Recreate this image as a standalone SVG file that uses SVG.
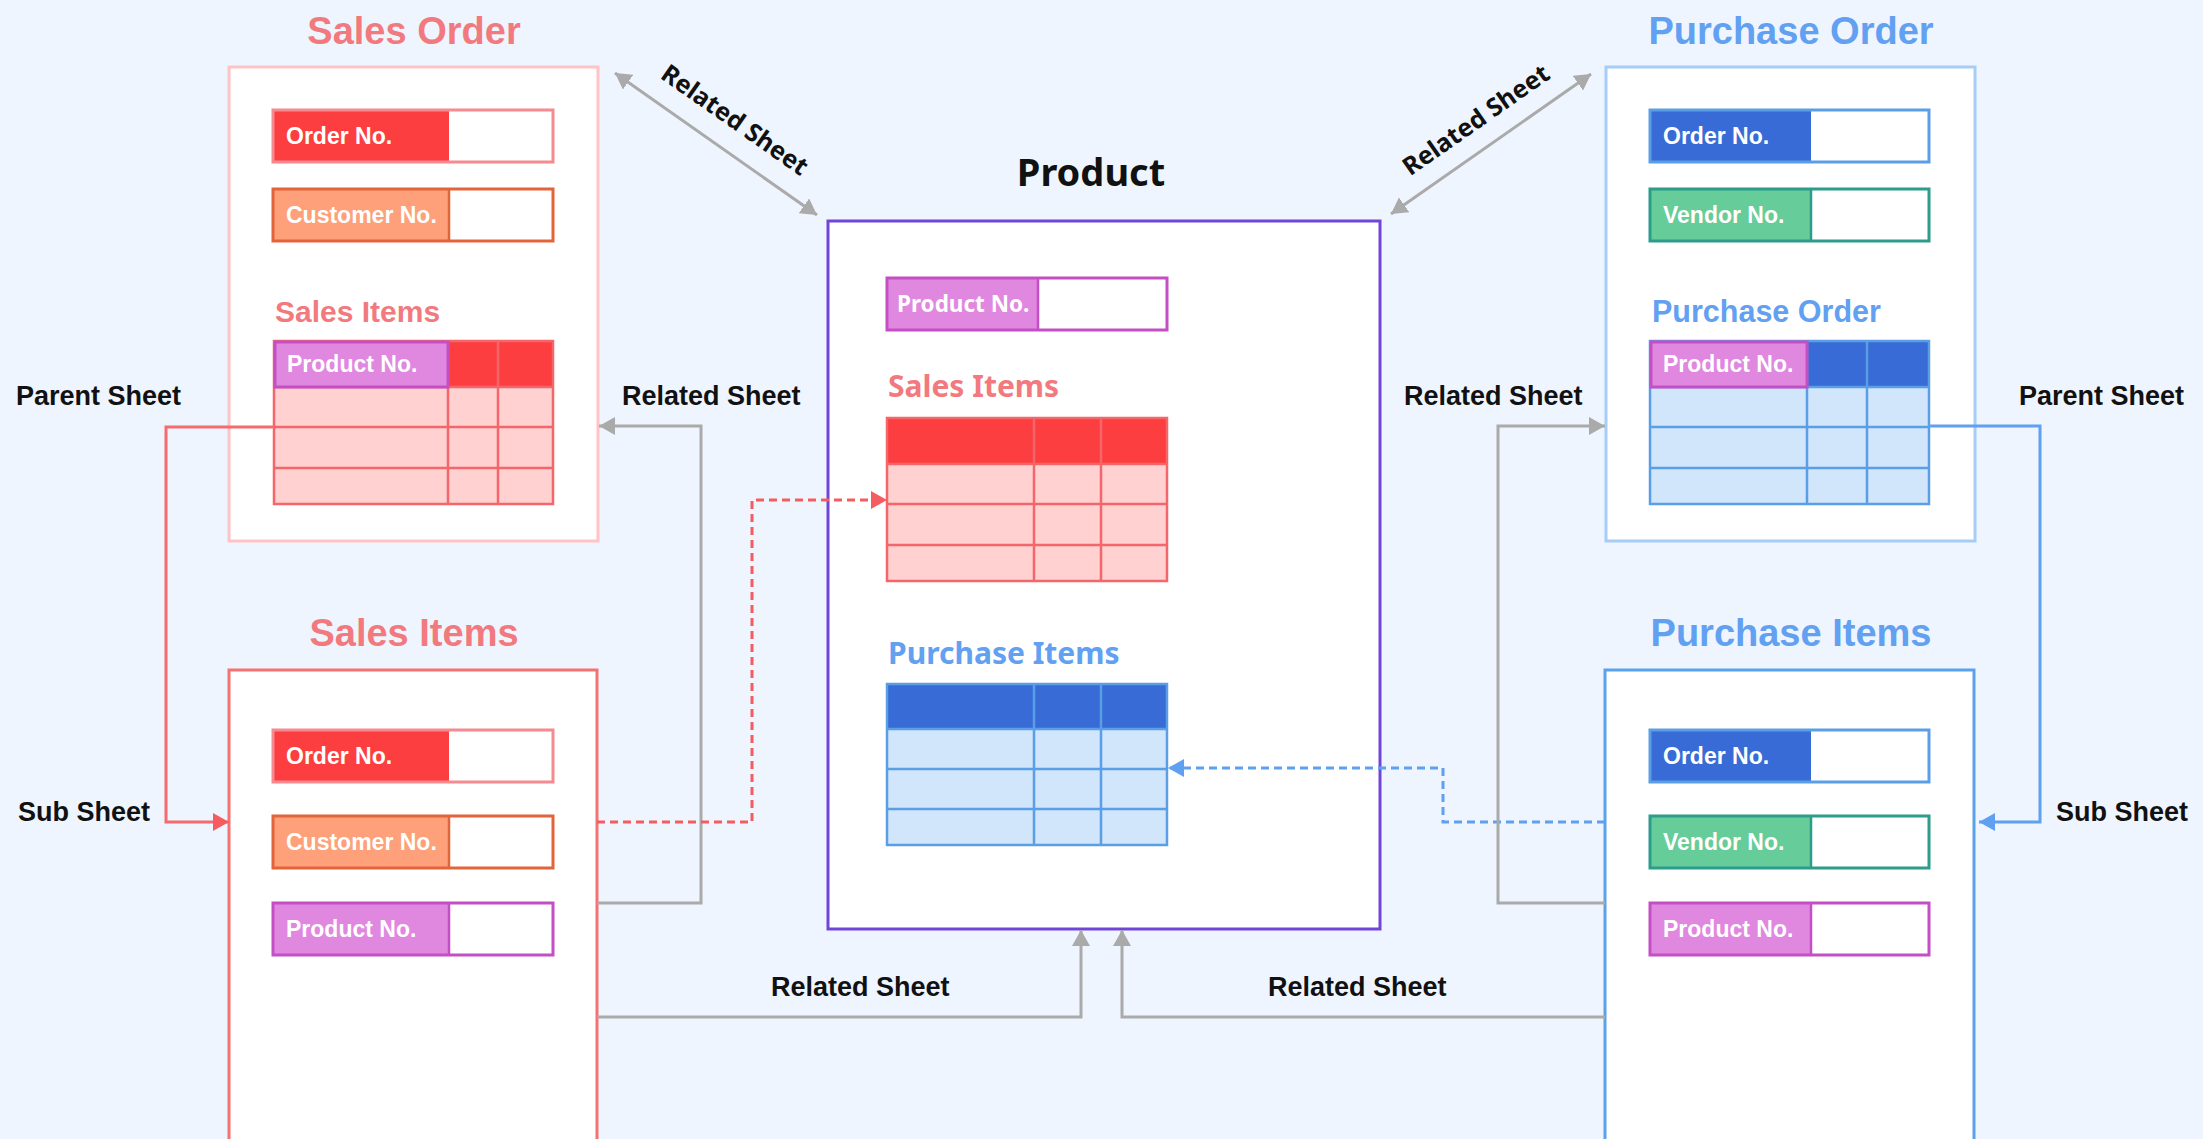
<svg xmlns="http://www.w3.org/2000/svg" width="2203" height="1139" viewBox="0 0 2203 1139">
<style>
.t{font-family:"Liberation Sans",Arial,sans-serif;font-weight:bold}
.n{font-family:"Noto Sans","Liberation Sans",sans-serif;font-weight:bold}
.title{font-size:38px;text-anchor:middle}
.red{fill:#f27a7f}
.blue{fill:#62a0f2}
.lbl{font-size:27px;fill:#111}
.fl{font-size:23px;fill:#fff}
.box{fill:#fff;stroke-width:3}
.val{fill:#fff}
.conn{fill:none;stroke-width:3}
.gray{stroke:#aaaaaa}
</style>
<defs>
<marker id="ag" viewBox="0 0 16 18" refX="16" refY="9" markerWidth="16" markerHeight="18" markerUnits="userSpaceOnUse" orient="auto-start-reverse"><path d="M0,0 L16,9 L0,18 Z" fill="#aaaaaa"/></marker>
<marker id="ar" viewBox="0 0 16 18" refX="16" refY="9" markerWidth="16" markerHeight="18" markerUnits="userSpaceOnUse" orient="auto"><path d="M0,0 L16,9 L0,18 Z" fill="#f45c60"/></marker>
<marker id="ab" viewBox="0 0 16 18" refX="16" refY="9" markerWidth="16" markerHeight="18" markerUnits="userSpaceOnUse" orient="auto"><path d="M0,0 L16,9 L0,18 Z" fill="#5fa0f0"/></marker>
</defs>
<rect x="0" y="0" width="2203" height="1139" fill="#eef5fe"/>

<g id="sales-order">
<text class="t title red" x="414" y="44">Sales Order</text>
<rect class="box" x="229" y="67" width="369" height="474" stroke="#ffc3c6"/>
<rect x="273" y="110" width="176" height="52" fill="#fd3e40"/>
<rect x="449" y="110" width="104" height="52" class="val"/>
<rect x="273" y="110" width="280" height="52" fill="none" stroke="#f58a90" stroke-width="3"/>
<text class="t fl" x="286" y="144">Order No.</text>
<rect x="273" y="189" width="176" height="52" fill="#fea079"/>
<rect x="449" y="189" width="104" height="52" class="val"/>
<rect x="273" y="189" width="280" height="52" fill="none" stroke="#e2643a" stroke-width="3"/>
<line x1="449" y1="189" x2="449" y2="241" stroke="#e2643a" stroke-width="2.5"/>
<text class="t fl" x="286" y="223">Customer No.</text>
<text class="t red" font-size="30" x="275" y="322">Sales Items</text>
<rect x="274" y="341" width="279" height="163" fill="#ffd1d1"/>
<rect x="448" y="341" width="105" height="46" fill="#fd3e40"/>
<g stroke="#f4666a" stroke-width="2.5" fill="none">
<rect x="274" y="341" width="279" height="163"/>
<line x1="274" y1="387" x2="553" y2="387"/>
<line x1="274" y1="427" x2="553" y2="427"/>
<line x1="274" y1="468" x2="553" y2="468"/>
<line x1="448" y1="341" x2="448" y2="504"/>
<line x1="498" y1="341" x2="498" y2="504"/>
</g>
<rect x="275" y="342" width="173" height="45" fill="#e088e0" stroke="#c44fc4" stroke-width="3"/>
<text class="t fl" x="287" y="372">Product No.</text>
</g>

<g id="sales-items">
<text class="t title red" x="414" y="646">Sales Items</text>
<rect class="box" x="229" y="670" width="368" height="500" stroke="#f57272"/>
<rect x="273" y="730" width="176" height="52" fill="#fd3e40"/>
<rect x="449" y="730" width="104" height="52" class="val"/>
<rect x="273" y="730" width="280" height="52" fill="none" stroke="#f58a90" stroke-width="3"/>
<text class="t fl" x="286" y="764">Order No.</text>
<rect x="273" y="816" width="176" height="52" fill="#fea079"/>
<rect x="449" y="816" width="104" height="52" class="val"/>
<rect x="273" y="816" width="280" height="52" fill="none" stroke="#e2643a" stroke-width="3"/>
<line x1="449" y1="816" x2="449" y2="868" stroke="#e2643a" stroke-width="2.5"/>
<text class="t fl" x="286" y="850">Customer No.</text>
<rect x="273" y="903" width="176" height="52" fill="#e088e0"/>
<rect x="449" y="903" width="104" height="52" class="val"/>
<rect x="273" y="903" width="280" height="52" fill="none" stroke="#c44fc4" stroke-width="3"/>
<line x1="449" y1="903" x2="449" y2="955" stroke="#c44fc4" stroke-width="2.5"/>
<text class="t fl" x="286" y="937">Product No.</text>
</g>

<g id="product">
<text class="n" font-size="38" fill="#111" text-anchor="middle" x="1091" y="186">Product</text>
<rect class="box" x="828" y="221" width="552" height="708" stroke="#7145d6" stroke-width="3.5"/>
<rect x="887" y="278" width="151" height="52" fill="#e088e0"/>
<rect x="1038" y="278" width="129" height="52" class="val"/>
<rect x="887" y="278" width="280" height="52" fill="none" stroke="#c44fc4" stroke-width="3"/>
<line x1="1038" y1="278" x2="1038" y2="330" stroke="#c44fc4" stroke-width="2.5"/>
<text class="n" font-size="22.5" fill="#fff" x="897" y="312">Product No.</text>
<text class="n red" font-size="30" x="888" y="397">Sales Items</text>
<rect x="887" y="418" width="280" height="163" fill="#ffd1d1"/>
<rect x="887" y="418" width="280" height="46" fill="#fd3e40"/>
<g stroke="#f4666a" stroke-width="2.5" fill="none">
<rect x="887" y="418" width="280" height="163"/>
<line x1="887" y1="464" x2="1167" y2="464"/>
<line x1="887" y1="504" x2="1167" y2="504"/>
<line x1="887" y1="545" x2="1167" y2="545"/>
<line x1="1034" y1="418" x2="1034" y2="581"/>
<line x1="1101" y1="418" x2="1101" y2="581"/>
</g>
<text class="n blue" font-size="30" x="888" y="664">Purchase Items</text>
<rect x="887" y="684" width="280" height="161" fill="#d1e5fb"/>
<rect x="887" y="684" width="280" height="45" fill="#386bd6"/>
<g stroke="#5a9fe6" stroke-width="2.5" fill="none">
<rect x="887" y="684" width="280" height="161"/>
<line x1="887" y1="729" x2="1167" y2="729"/>
<line x1="887" y1="769" x2="1167" y2="769"/>
<line x1="887" y1="809" x2="1167" y2="809"/>
<line x1="1034" y1="684" x2="1034" y2="845"/>
<line x1="1101" y1="684" x2="1101" y2="845"/>
</g>
</g>

<g id="purchase-order">
<text class="t title blue" x="1791" y="44">Purchase Order</text>
<rect class="box" x="1606" y="67" width="369" height="474" stroke="#a6cdf8"/>
<rect x="1650" y="110" width="161" height="52" fill="#386bd6"/>
<rect x="1811" y="110" width="118" height="52" class="val"/>
<rect x="1650" y="110" width="279" height="52" fill="none" stroke="#5a9fe6" stroke-width="3"/>
<text class="t fl" x="1663" y="144">Order No.</text>
<rect x="1650" y="189" width="161" height="52" fill="#66cc99"/>
<rect x="1811" y="189" width="118" height="52" class="val"/>
<rect x="1650" y="189" width="279" height="52" fill="none" stroke="#2d9c8a" stroke-width="3"/>
<line x1="1811" y1="189" x2="1811" y2="241" stroke="#2d9c8a" stroke-width="2.5"/>
<text class="t fl" x="1663" y="223">Vendor No.</text>
<text class="t blue" font-size="30.5" x="1652" y="322">Purchase Order</text>
<rect x="1650" y="341" width="279" height="163" fill="#d1e5fb"/>
<rect x="1807" y="341" width="122" height="46" fill="#386bd6"/>
<g stroke="#5a9fe6" stroke-width="2.5" fill="none">
<rect x="1650" y="341" width="279" height="163"/>
<line x1="1650" y1="387" x2="1929" y2="387"/>
<line x1="1650" y1="427" x2="1929" y2="427"/>
<line x1="1650" y1="468" x2="1929" y2="468"/>
<line x1="1807" y1="341" x2="1807" y2="504"/>
<line x1="1867" y1="341" x2="1867" y2="504"/>
</g>
<rect x="1651" y="342" width="156" height="45" fill="#e088e0" stroke="#c44fc4" stroke-width="3"/>
<text class="t fl" x="1663" y="372">Product No.</text>
</g>

<g id="purchase-items">
<text class="t title blue" x="1791" y="646">Purchase Items</text>
<rect class="box" x="1605" y="670" width="369" height="500" stroke="#5aa2ea"/>
<rect x="1650" y="730" width="161" height="52" fill="#386bd6"/>
<rect x="1811" y="730" width="118" height="52" class="val"/>
<rect x="1650" y="730" width="279" height="52" fill="none" stroke="#5a9fe6" stroke-width="3"/>
<text class="t fl" x="1663" y="764">Order No.</text>
<rect x="1650" y="816" width="161" height="52" fill="#66cc99"/>
<rect x="1811" y="816" width="118" height="52" class="val"/>
<rect x="1650" y="816" width="279" height="52" fill="none" stroke="#2d9c8a" stroke-width="3"/>
<line x1="1811" y1="816" x2="1811" y2="868" stroke="#2d9c8a" stroke-width="2.5"/>
<text class="t fl" x="1663" y="850">Vendor No.</text>
<rect x="1650" y="903" width="161" height="52" fill="#e088e0"/>
<rect x="1811" y="903" width="118" height="52" class="val"/>
<rect x="1650" y="903" width="279" height="52" fill="none" stroke="#c44fc4" stroke-width="3"/>
<line x1="1811" y1="903" x2="1811" y2="955" stroke="#c44fc4" stroke-width="2.5"/>
<text class="t fl" x="1663" y="937">Product No.</text>
</g>

<g id="connectors">
<path class="conn" d="M274,427 H166 V822 H229" stroke="#f46c6e" marker-end="url(#ar)"/>
<path class="conn gray" d="M597,903 H701 V426 H599" marker-end="url(#ag)"/>
<path class="conn" d="M597,822 H752 V500 H887" stroke="#f45c60" stroke-dasharray="8 5" marker-end="url(#ar)"/>
<path class="conn gray" d="M597,1017 H1081 V930" marker-end="url(#ag)"/>
<path class="conn gray" d="M1605,1017 H1122 V930" marker-end="url(#ag)"/>
<path class="conn" d="M1605,822 H1443 V768 H1168" stroke="#5fa0f0" stroke-dasharray="8 5" marker-end="url(#ab)"/>
<path class="conn gray" d="M1605,903 H1498 V426 H1605" marker-end="url(#ag)"/>
<path class="conn" d="M1929,426 H2040 V822 H1979" stroke="#5fa0f0" marker-end="url(#ab)"/>
<path class="conn gray" d="M615,73 L817,215" marker-start="url(#ag)" marker-end="url(#ag)"/>
<path class="conn gray" d="M1591,74 L1391,214" marker-start="url(#ag)" marker-end="url(#ag)"/>
<text class="t lbl" x="16" y="405">Parent Sheet</text>
<text class="t lbl" x="622" y="405">Related Sheet</text>
<text class="t lbl" x="18" y="821">Sub Sheet</text>
<text class="t lbl" x="771" y="996">Related Sheet</text>
<text class="t lbl" x="1268" y="996">Related Sheet</text>
<text class="t lbl" x="1404" y="405">Related Sheet</text>
<text class="t lbl" x="2019" y="405">Parent Sheet</text>
<text class="t lbl" x="2056" y="821">Sub Sheet</text>
<text class="n" font-size="25" fill="#111" text-anchor="middle" transform="translate(730,127) rotate(35)">Related Sheet</text>
<text class="n" font-size="25" fill="#111" text-anchor="middle" transform="translate(1481,127) rotate(-35)">Related Sheet</text>
</g>
</svg>
